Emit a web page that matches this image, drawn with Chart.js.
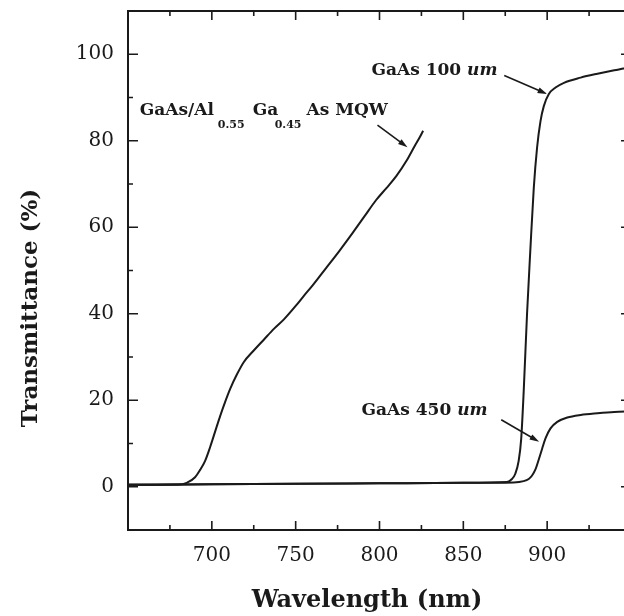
<title>GaAs transmittance</title>

<script src="https://cdn.jsdelivr.net/npm/chart.js@4.4.1/dist/chart.umd.min.js"></script>

<div id="wrap">
  <canvas id="transChart" width="640" height="616"></canvas>
</div>

<script>
  // wavelength (nm) / transmittance (%)
  const wlMQW = [650, 680, 685, 690, 693, 696, 699, 702, 705, 708, 711, 715, 719, 725, 731, 737, 743, 750, 755, 760, 768, 776, 784, 791, 798, 804, 810, 816, 821, 824, 826];
  const tMQW  = [0.45, 0.5, 0.9, 2.2, 3.9, 6, 9.2, 12.8, 16.4, 19.7, 22.7, 26, 28.8, 31.5, 34, 36.5, 38.7, 41.8, 44.2, 46.5, 50.5, 54.5, 58.7, 62.5, 66.3, 69, 71.8, 75.3, 78.8, 80.8, 82.3];

  const wl100 = [650, 700, 750, 800, 850, 876, 879, 881, 883, 884.5, 886, 888, 890, 892, 894, 896, 898, 901, 905, 910, 920, 930, 940, 950];
  const t100  = [0.45, 0.55, 0.7, 0.8, 0.9, 1.1, 1.8, 3, 6, 11, 22, 40, 55, 69, 78.5, 84.5, 88, 90.8, 92.3, 93.4, 94.6, 95.5, 96.3, 97];

  const wl450 = [650, 700, 750, 800, 850, 880, 886, 889, 891, 893, 895, 897, 899, 902, 906, 912, 920, 930, 940, 950];
  const t450  = [0.45, 0.55, 0.7, 0.8, 0.9, 1.0, 1.3, 1.8, 2.6, 4, 6.3, 8.8, 11.2, 13.5, 15, 16, 16.6, 17, 17.3, 17.4];

  const xTickLabels = [700, 750, 800, 850, 900];
  const yTickLabels = [0, 20, 40, 60, 80, 100];

  const serif = "'DejaVu Serif', 'Liberation Serif', serif";
  const ink = "#1a1a1a";

  function pairs(xs, ys) {
    return xs.map((v, i) => ({ x: v, y: ys[i] }));
  }

  function curve(xs, ys) {
    return {
      data: pairs(xs, ys),
      borderColor: ink,
      borderWidth: 2,
      pointRadius: 0,
      cubicInterpolationMode: "monotone",
      fill: false
    };
  }

  function arrow(ctx, x1, y1, x2, y2) {
    const ang = Math.atan2(y2 - y1, x2 - x1);
    const head = 10;
    ctx.beginPath();
    ctx.moveTo(x1, y1);
    ctx.lineTo(x2 - Math.cos(ang) * head * 0.7, y2 - Math.sin(ang) * head * 0.7);
    ctx.stroke();
    ctx.beginPath();
    ctx.moveTo(x2, y2);
    ctx.lineTo(x2 - head * Math.cos(ang - 0.3), y2 - head * Math.sin(ang - 0.3));
    ctx.lineTo(x2 - head * Math.cos(ang + 0.3), y2 - head * Math.sin(ang + 0.3));
    ctx.closePath();
    ctx.fill();
  }

  // frame, inward ticks, axis titles and the curve labels
  const decor = {
    id: "decor",
    afterDraw(chart) {
      const { ctx, chartArea: a, scales: { x, y } } = chart;
      const X = v => x.getPixelForValue(v);
      const Y = v => y.getPixelForValue(v);
      ctx.save();
      ctx.strokeStyle = ink;
      ctx.fillStyle = ink;

      ctx.lineWidth = 2;
      ctx.strokeRect(a.left, a.top, a.right - a.left, a.bottom - a.top);

      ctx.lineWidth = 1.6;
      ctx.beginPath();
      for (let v = 650; v <= 950; v += 25) {
        const len = v % 50 === 0 ? 9 : 5;
        ctx.moveTo(X(v), a.bottom); ctx.lineTo(X(v), a.bottom - len);
        ctx.moveTo(X(v), a.top); ctx.lineTo(X(v), a.top + len);
      }
      for (let v = -10; v <= 110; v += 10) {
        const len = v % 20 === 0 ? 10 : 5;
        ctx.moveTo(a.left, Y(v)); ctx.lineTo(a.left + len, Y(v));
        ctx.moveTo(a.right, Y(v)); ctx.lineTo(a.right - len, Y(v));
      }
      ctx.stroke();

      // axis titles
      ctx.textAlign = "center";
      ctx.textBaseline = "alphabetic";
      ctx.font = "bold 24px " + serif;
      ctx.fillText("Wavelength (nm)", 367, 607);
      ctx.save();
      ctx.translate(37, 308);
      ctx.rotate(-Math.PI / 2);
      ctx.font = "bold 23px " + serif;
      ctx.fillText("Transmittance (%)", 0, 0);
      ctx.restore();

      // labels
      ctx.textAlign = "left";
      const big = "bold 17px " + serif;
      const sub = "bold 11px " + serif;
      ctx.font = big;
      ctx.fillText("GaAs/Al", X(657), Y(85.9));
      ctx.fillText("Ga", X(724.4), Y(85.9));
      ctx.fillText("As MQW", X(756.5), Y(85.9));
      ctx.font = sub;
      ctx.fillText("0.55", X(703.6), Y(82.9));
      ctx.fillText("0.45", X(737.5), Y(82.9));

      function thickness(label, wl, t) {
        ctx.font = big;
        let px = X(wl);
        ctx.fillText(label, px, Y(t));
        px += ctx.measureText(label).width;
        ctx.font = "italic bold 17px " + serif;
        ctx.fillText("um", px, Y(t));
      }
      thickness("GaAs 100 ", 795.2, 95.1);
      thickness("GaAs 450 ", 789.3, 16.6);

      ctx.lineWidth = 1.6;
      arrow(ctx, X(798.8), Y(83.6), X(816.7), Y(78.5));
      arrow(ctx, X(874.4), Y(95.1), X(900), Y(90.8));
      arrow(ctx, X(872.6), Y(15.5), X(895.2), Y(10.4));
      ctx.restore();
    }
  };

  const ctx = document.getElementById("transChart").getContext("2d");

  const chart = new Chart(ctx, {
    type: "line",
    data: {
      datasets: [curve(wlMQW, tMQW), curve(wl100, t100), curve(wl450, t450)]
    },
    options: {
      responsive: false,
      animation: false,
      devicePixelRatio: 1,
      layout: { padding: { left: 0, top: 11, right: 9, bottom: 0 } },
      plugins: { legend: { display: false }, tooltip: { enabled: false } },
      scales: {
        x: {
          type: "linear",
          min: 650,
          max: 950,
          grid: { display: false, drawTicks: false },
          border: { display: false },
          afterBuildTicks: s => { s.ticks = xTickLabels.map(v => ({ value: v })); },
          afterFit: s => { s.height = 86; s.paddingLeft = 0; s.paddingRight = 0; },
          ticks: {
            color: ink,
            padding: 14,
            maxRotation: 0,
            font: { family: serif, size: 20 }
          }
        },
        y: {
          type: "linear",
          min: -10,
          max: 110,
          grid: { display: false, drawTicks: false },
          border: { display: false },
          afterBuildTicks: s => { s.ticks = yTickLabels.map(v => ({ value: v })); },
          afterFit: s => { s.width = 128; s.paddingTop = 0; s.paddingBottom = 0; },
          ticks: {
            color: ink,
            padding: 14,
            font: { family: serif, size: 20 }
          }
        }
      }
    },
    plugins: [decor]
  });
</script>

<style>
  html, body {
    margin: 0;
    overflow: hidden;
    background: #fff;
  }
  #wrap {
    width: 624px;
    height: 616px;
    overflow: hidden;
  }
  #transChart {
    display: block;
  }
</style>
